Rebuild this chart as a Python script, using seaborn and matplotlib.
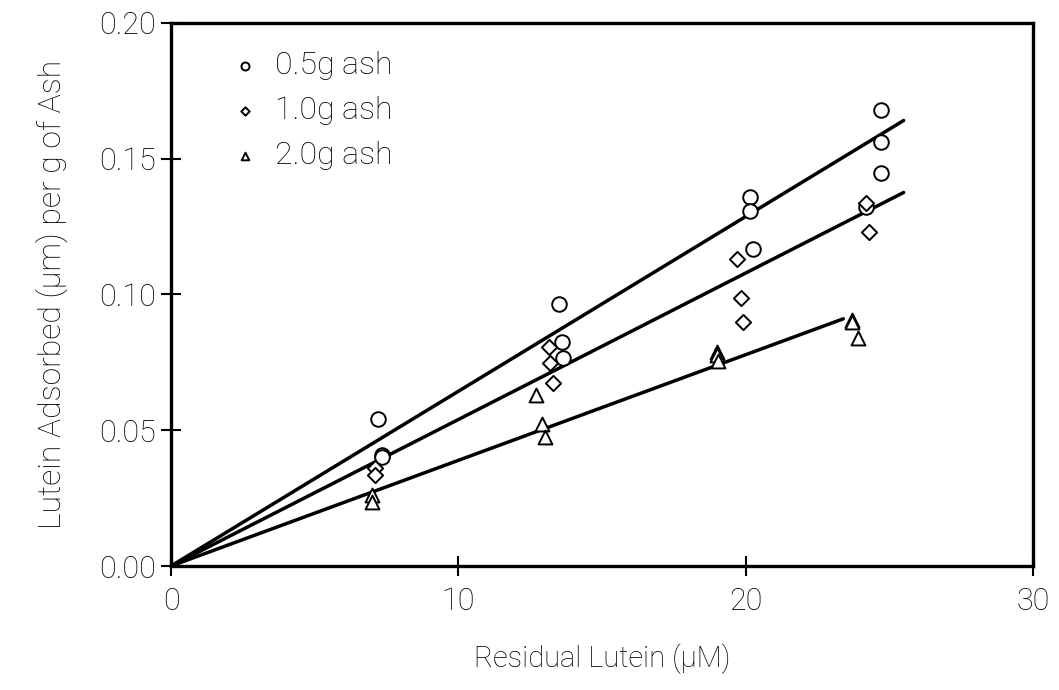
import matplotlib
matplotlib.use("Agg")
import matplotlib.pyplot as plt
import pandas as pd
import seaborn as sns

# points: residual lutein (uM), lutein adsorbed per g of ash
ash05_x = [7.2, 7.35, 7.35, 13.5, 13.6, 13.65, 20.15, 20.15, 20.25, 24.7, 24.7, 24.7, 24.2]
ash05_y = [0.054, 0.041, 0.040, 0.0965, 0.0826, 0.0767, 0.1358, 0.1308, 0.1167, 0.168, 0.1559, 0.1446, 0.1323]

ash10_x = [7.1, 7.1, 13.15, 13.2, 13.3, 19.7, 19.85, 19.9, 24.2, 24.3]
ash10_y = [0.0361, 0.0335, 0.0805, 0.0746, 0.0675, 0.1129, 0.0988, 0.0897, 0.1338, 0.1229]

ash20_x = [7.0, 7.0, 12.7, 12.9, 13.0, 19.0, 19.0, 19.05, 23.7, 23.7, 23.9]
ash20_y = [0.0261, 0.0236, 0.0630, 0.0523, 0.0476, 0.0789, 0.0777, 0.0756, 0.0906, 0.0900, 0.0841]

# fitted lines (start / end points)
fit05_x, fit05_y = [0, 25.5], [0, 0.164]
fit10_x, fit10_y = [0, 25.5], [0, 0.1375]
fit20_x, fit20_y = [0, 23.4], [0, 0.0910]

labels = ["0.5g ash", "1.0g ash", "2.0g ash"]
markers = ["o", "D", "^"]
sizes = [110, 60, 100]

sns.set_style("white")
plt.rcParams['font.family'] = ['Roboto', 'DejaVu Sans']
plt.rcParams['font.weight'] = 'light'
plt.rcParams['axes.labelweight'] = 'light'
plt.rcParams['text.color'] = 'black'
plt.rcParams['axes.labelcolor'] = 'black'

fig = plt.figure(figsize=(10.59, 6.9), dpi=100)
ax = fig.add_axes([0.1615, 0.1797, 0.8139, 0.7874])

for fx, fy in [(fit05_x, fit05_y), (fit10_x, fit10_y), (fit20_x, fit20_y)]:
    sns.lineplot(x=fx, y=fy, color="black", linewidth=2.5, ax=ax, zorder=1)

groups = [(ash05_x, ash05_y), (ash10_x, ash10_y), (ash20_x, ash20_y)]
for (gx, gy), lab, m, s in zip(groups, labels, markers, sizes):
    df = pd.DataFrame({"x": gx, "y": gy})
    sns.scatterplot(data=df, x="x", y="y", marker=m, s=s, color="white",
                    edgecolor="black", linewidth=1.4, label=lab, ax=ax, zorder=3)

ax.set_xlim(0, 30)
ax.set_ylim(0, 0.20)
ax.set_xticks([0, 10, 20, 30])
ax.set_yticks([0.0, 0.05, 0.10, 0.15, 0.20])
ax.set_yticklabels(["0.00", "0.05", "0.10", "0.15", "0.20"])
ax.tick_params(bottom=True, left=True, direction="inout", length=14, width=1.5,
               labelsize=22, colors="black", pad=4)
ax.tick_params(axis="x", pad=8)
for sp in ax.spines.values():
    sp.set_visible(True)
    sp.set_color("black")
    sp.set_linewidth(2.4)

ax.set_xlabel("Residual Lutein (\u00b5M)", fontsize=21, labelpad=20)
ax.set_ylabel("Lutein Adsorbed (\u00b5m) per g of Ash", fontsize=23, labelpad=22)

ax.legend(loc="upper left", bbox_to_anchor=(0.03, 1.0), frameon=False, fontsize=23,
          markerscale=0.55, handletextpad=0.35, labelspacing=0.5, handlelength=1.2)

fig.savefig("out.png", dpi=100)
